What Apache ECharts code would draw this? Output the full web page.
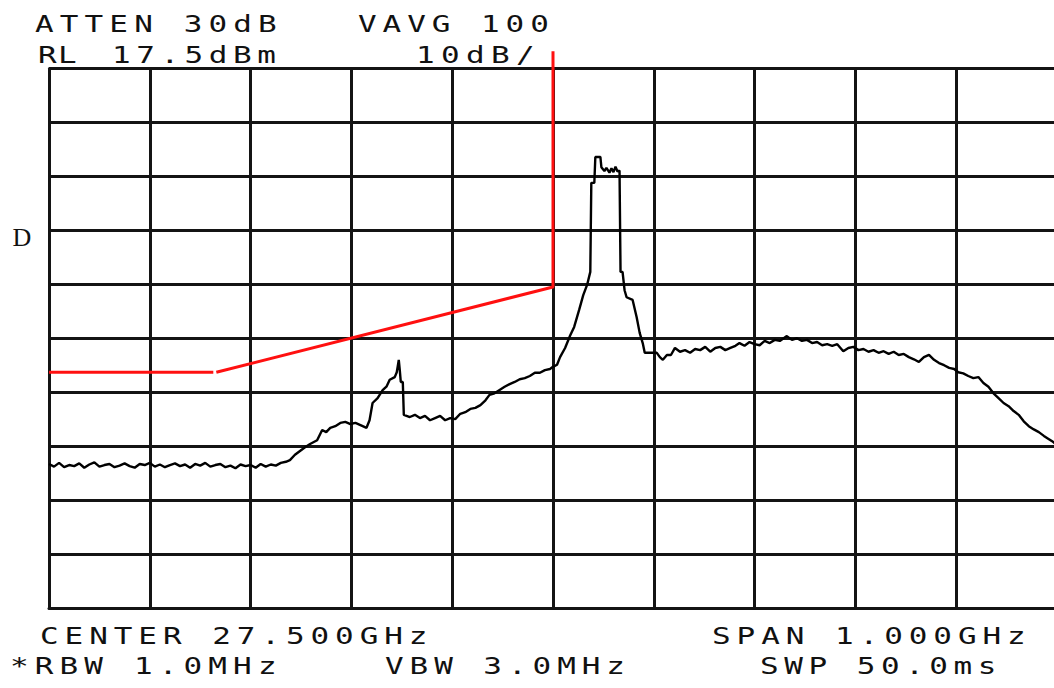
<!DOCTYPE html>
<html>
<head>
<meta charset="utf-8">
<script src="https://cdn.jsdelivr.net/npm/echarts@6/dist/echarts.min.js"></script>
<style>
  html, body { margin: 0; padding: 0; background: #fff; overflow: hidden; width: 1054px; height: 688px; }
  #chart { width: 1064px; height: 688px; }
</style>
</head>
<body>
<div id="chart"></div>
<script>
// Analyzer settings
const REF_LEVEL_DBM = 17.5;
const DB_PER_DIV = 10;
const CENTER_MHZ = 27500;
const SPAN_MHZ = 1000;
const DIVISIONS = 10;

// Measured trace: frequency (MHz) and level (dBm)
const traceFreqMHz = [
  27000, 27005, 27010, 27015, 27020, 27025, 27030, 27035, 27040, 27045,
  27050, 27055, 27060, 27065, 27070, 27075, 27080, 27085, 27090, 27095,
  27100, 27105, 27110, 27115, 27120, 27125, 27130, 27135, 27140, 27145,
  27150, 27155, 27160, 27165, 27170, 27175, 27180, 27185, 27190, 27195,
  27200, 27205, 27210, 27215, 27220, 27225, 27230,
  27235, 27239, 27244, 27249, 27254, 27259, 27266, 27271, 27275, 27279,
  27284, 27289, 27294, 27299, 27304, 27309, 27315, 27318, 27321, 27326,
  27331, 27335, 27338, 27343, 27345, 27346, 27347, 27348, 27349, 27351,
  27352, 27358, 27363, 27368, 27373, 27378, 27383, 27388, 27393, 27398,
  27403, 27408, 27413, 27418, 27423, 27428, 27433, 27437, 27442, 27447,
  27452, 27457, 27462, 27467, 27472, 27477, 27482, 27487, 27492, 27497,
  27500, 27504, 27507, 27512, 27517, 27521, 27526, 27530, 27534, 27537,
  27538, 27541, 27542, 27547, 27548, 27551, 27553, 27556, 27558, 27560,
  27562, 27564, 27566, 27567, 27569, 27571, 27573, 27579, 27583, 27586,
  27589, 27591, 27596, 27603, 27606, 27609, 27613, 27617, 27621, 27626,
  27631, 27636, 27641, 27646, 27651, 27656, 27661, 27666, 27671, 27676,
  27681, 27685, 27690, 27695, 27700, 27705, 27710, 27715, 27720, 27725,
  27732, 27737, 27742, 27747, 27752, 27757, 27762, 27767, 27772, 27777,
  27782, 27788, 27793, 27798, 27803, 27808, 27813, 27818, 27823, 27828,
  27833, 27838, 27843, 27848, 27853, 27858, 27863, 27868, 27873, 27878,
  27883, 27888, 27893, 27898, 27902, 27907, 27912, 27917, 27922, 27927,
  27932, 27937, 27942, 27947, 27952, 27957, 27962, 27967, 27972, 27977,
  27982, 27987, 27992, 27996, 28000
];
const traceLevelDbm = [
  -55.8, -56.3, -55.6, -56.4, -56.0, -56.2, -55.7, -56.5, -55.9, -55.5,
  -56.3, -56.0, -55.8, -56.4, -56.1, -55.7, -56.2, -56.5, -55.8, -56.0,
  -55.6, -56.3, -55.9, -56.4, -56.0, -55.7, -56.2, -55.9, -56.5, -55.8,
  -56.1, -55.6, -56.3, -56.0, -55.8, -56.4, -56.1, -56.6, -55.9, -56.2,
  -56.0, -56.5, -55.8, -56.3, -55.9, -56.1, -55.6,
  -55.4, -55.1, -54.1, -53.4, -52.7, -52.1, -51.4, -49.5, -49.9, -49.1,
  -48.8, -48.2, -48.0, -48.4, -48.2, -48.6, -49.1, -47.7, -44.5, -43.6,
  -42.1, -41.4, -40.2, -39.7, -38.8, -37.7, -36.5, -38.4, -40.6, -40.6,
  -46.7, -47.1, -46.7, -47.3, -46.9, -47.7, -47.3, -46.9, -47.7, -47.3,
  -47.5, -46.5, -46.2, -45.6, -45.4, -44.9, -44.0, -43.0, -42.7, -42.1,
  -41.5, -41.0, -40.6, -40.1, -39.9, -39.5, -38.9, -38.9, -38.4, -38.2,
  -37.8, -37.4, -36.0, -34.3, -32.0, -30.4, -27.2, -24.5, -22.5, -20.2,
  -3.7, -3.7, 1.1, 1.1, -0.8, -1.5, -0.9, -1.8, -1.0, -1.7,
  -0.7, -1.6, -1.4, -20.2, -20.2, -23.6, -24.9, -25.4, -28.6, -31.5,
  -33.4, -35.2, -35.2, -35.2, -36.0, -36.5, -35.6, -35.6, -34.3, -35.0,
  -34.7, -35.2, -34.5, -34.7, -34.1, -35.0, -34.3, -34.1, -34.7, -34.3,
  -33.9, -33.4, -33.9, -33.2, -33.6, -33.8, -33.0, -33.4, -32.8, -33.0,
  -32.1, -32.8, -32.5, -33.0, -32.8, -33.4, -33.2, -33.8, -33.6, -33.9,
  -33.6, -34.9, -34.3, -34.1, -34.7, -34.5, -35.0, -34.7, -35.2, -34.9,
  -35.4, -35.0, -35.6, -35.4, -36.0, -36.4, -36.9, -36.0, -35.6, -36.5,
  -37.1, -37.5, -38.0, -38.2, -38.8, -39.0, -39.5, -39.9, -39.7, -40.8,
  -41.5, -42.7, -43.6, -44.5, -45.1, -46.0, -46.7, -47.9, -48.8, -49.4,
  -49.9, -50.6, -51.2, -51.7, -52.3
];

// Limit line: flat section, then ramp and vertical edge
const limitFlatFreqMHz = [27000, 27163];
const limitFlatLevelDbm = [-38.8, -38.8];
const limitRampFreqMHz = [27166, 27500, 27500];
const limitRampLevelDbm = [-38.8, -23.0, 20.7];

// Annotation text rows (fixed-pitch lettering)
const annotationRows = [
  { text: 'ATTEN 30dB', x: 35, y: 23.5, pitch: 24.8 },
  { text: 'VAVG 100', x: 358, y: 23.5, pitch: 24.6 },
  { text: 'RL', x: 38, y: 54.5, pitch: 20 },
  { text: '17.5dBm', x: 112, y: 54.5, pitch: 24.2 },
  { text: '10dB/', x: 416, y: 54.5, pitch: 25 },
  { text: 'CENTER 27.500GHz', x: 40, y: 635.5, pitch: 24.6 },
  { text: 'SPAN 1.000GHz', x: 712, y: 635.5, pitch: 24.6 },
  { text: '*RBW 1.0MHz', x: 10, y: 665, pitch: 24.8 },
  { text: 'VBW 3.0MHz', x: 385, y: 665, pitch: 24.6 },
  { text: 'SWP 50.0ms', x: 760, y: 665, pitch: 24.2 }
];

const LETTER_FONT_SIZE = 23.5;
const LETTER_SCALE_X = 1.32;
const MONO_ADVANCE = 0.602; // DejaVu Sans Mono advance width, in em

const CANVAS_W = 1064;
const PLOT_LEFT = 49;
const PLOT_RIGHT_EDGE = 1057;

const gridColor = '#141414';
const toRel = (lvl) => lvl - REF_LEVEL_DBM;
const pairs = (fs, ls) => fs.map((f, i) => [f, toRel(ls[i])]);

const chartDom = document.getElementById('chart');
const chart = echarts.init(chartDom, null, { renderer: 'svg', width: CANVAS_W, height: 688 });

const graphicTexts = annotationRows.map((r) => ({
  type: 'text',
  x: r.x,
  y: r.y,
  scaleX: LETTER_SCALE_X,
  silent: true,
  style: {
    text: r.text,
    font: LETTER_FONT_SIZE + 'px "DejaVu Sans Mono"',
    fill: '#111',
    textAlign: 'left',
    textVerticalAlign: 'middle'
  }
}));
graphicTexts.push({
  type: 'text',
  x: 22,
  y: 237,
  silent: true,
  style: {
    text: 'D',
    font: '26px "Liberation Serif"',
    fill: '#111',
    textAlign: 'center',
    textVerticalAlign: 'middle'
  }
});

const axisCommon = {
  type: 'value',
  axisTick: { show: false },
  axisLabel: { show: false },
  axisLine: { show: true, onZero: false, lineStyle: { color: gridColor, width: 3 } },
  splitLine: { show: true, lineStyle: { color: gridColor, width: 3 } }
};

chart.setOption({
  animation: false,
  backgroundColor: '#ffffff',
  grid: { left: PLOT_LEFT, right: CANVAS_W - PLOT_RIGHT_EDGE, top: 68.5, bottom: 80 },
  xAxis: Object.assign({}, axisCommon, {
    min: CENTER_MHZ - SPAN_MHZ / 2,
    max: CENTER_MHZ + SPAN_MHZ / 2,
    interval: SPAN_MHZ / DIVISIONS
  }),
  yAxis: Object.assign({}, axisCommon, {
    min: -DB_PER_DIV * DIVISIONS,
    max: 0,
    interval: DB_PER_DIV
  }),
  graphic: graphicTexts,
  series: [
    {
      type: 'line',
      data: pairs(traceFreqMHz, traceLevelDbm),
      showSymbol: false,
      lineStyle: { color: '#000', width: 2.4 },
      z: 4
    },
    {
      type: 'line',
      data: pairs(limitFlatFreqMHz, limitFlatLevelDbm),
      showSymbol: false,
      clip: false,
      lineStyle: { color: '#ff1010', width: 3 },
      z: 3
    },
    {
      type: 'line',
      data: pairs(limitRampFreqMHz, limitRampLevelDbm),
      showSymbol: false,
      clip: false,
      lineStyle: { color: '#ff1010', width: 3 },
      z: 3
    }
  ]
});

// Fixed-pitch lettering: widen the spacing of each annotation row
function applyLetterSpacing() {
  const nodes = chartDom.querySelectorAll('svg text');
  nodes.forEach((t) => {
    const row = annotationRows.find((r) => r.text === t.textContent);
    if (!row) return;
    const ls = row.pitch / LETTER_SCALE_X - MONO_ADVANCE * LETTER_FONT_SIZE;
    t.setAttribute('letter-spacing', ls.toFixed(2));
  });
}
applyLetterSpacing();
chart.on('finished', applyLetterSpacing);
setTimeout(applyLetterSpacing, 50);
</script>
</body>
</html>
